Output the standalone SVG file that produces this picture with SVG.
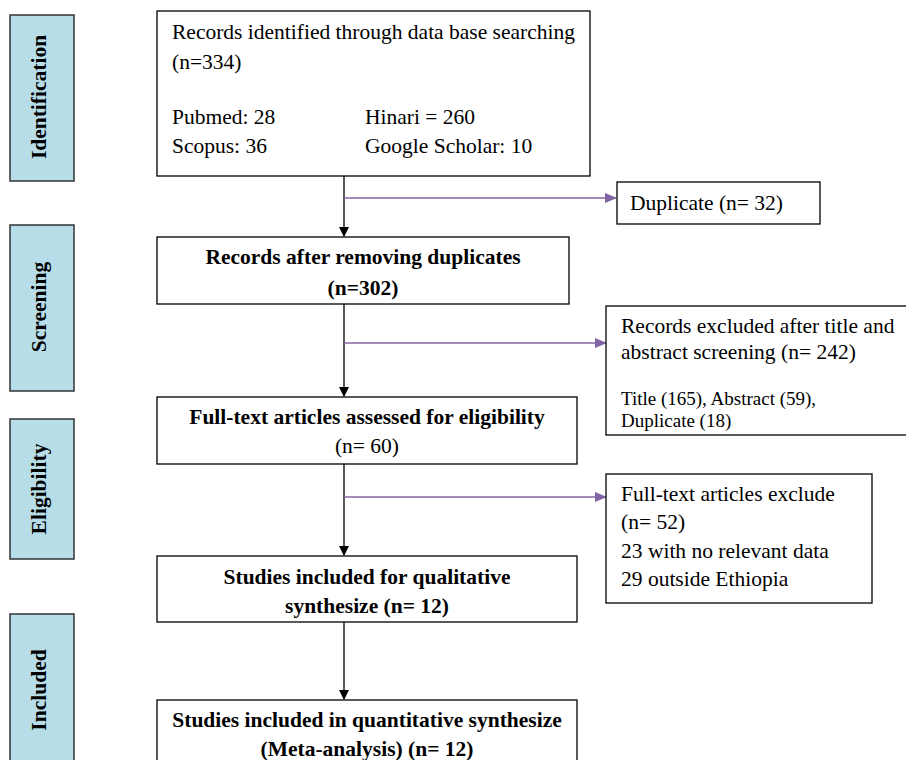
<svg xmlns="http://www.w3.org/2000/svg" width="906" height="760" viewBox="0 0 906 760">
<defs>
<style>
.side{fill:#b7dde8;stroke:#333;stroke-width:1.5}
.box{fill:#fff;stroke:#000;stroke-width:1.3}
.t{font-family:"Liberation Serif","Times New Roman",serif;font-size:21.5px;fill:#000}
.b{font-weight:bold}
.s{font-size:19px}
.st{font-family:"Liberation Serif","Times New Roman",serif;font-size:21.5px;font-weight:bold;fill:#000}
.k{stroke:#000;stroke-width:1.3;fill:none}
.p{stroke:#8064a2;stroke-width:1.3;fill:none}
</style>
<marker id="ak" markerWidth="10" markerHeight="10" refX="9" refY="5" orient="auto" markerUnits="userSpaceOnUse"><path d="M0,0 L10,5 L0,10 z" fill="#000"/></marker>
<marker id="ap" markerWidth="12" markerHeight="10" refX="11" refY="5" orient="auto" markerUnits="userSpaceOnUse"><path d="M0,0 L12,5 L0,10 z" fill="#8064a2"/></marker>
</defs>
<rect width="906" height="760" fill="#fff"/>
<g id="side-identification"><rect class="side" x="10" y="15" width="64" height="166"/><text class="st" transform="translate(46,97) rotate(-90)" text-anchor="middle">Identification</text></g>
<g id="side-screening"><rect class="side" x="10" y="225" width="64" height="166"/><text class="st" transform="translate(46,307) rotate(-90)" text-anchor="middle">Screening</text></g>
<g id="side-eligibility"><rect class="side" x="10" y="419" width="64" height="140"/><text class="st" transform="translate(46,489) rotate(-90)" text-anchor="middle">Eligibility</text></g>
<g id="side-included"><rect class="side" x="10" y="614" width="64" height="160"/><text class="st" transform="translate(46,690) rotate(-90)" text-anchor="middle">Included</text></g>
<g id="connectors">
<line class="k" x1="344" y1="176" x2="344" y2="236" marker-end="url(#ak)"/>
<line class="p" x1="344" y1="198" x2="616" y2="198" marker-end="url(#ap)"/>
<line class="k" x1="344" y1="304" x2="344" y2="396" marker-end="url(#ak)"/>
<line class="p" x1="344" y1="343" x2="606" y2="343" marker-end="url(#ap)"/>
<line class="k" x1="344" y1="464" x2="344" y2="555" marker-end="url(#ak)"/>
<line class="p" x1="344" y1="497" x2="606" y2="497" marker-end="url(#ap)"/>
<line class="k" x1="344" y1="622" x2="344" y2="699" marker-end="url(#ak)"/>
</g>
<g id="n-identified"><rect class="box" x="157" y="11" width="433" height="165"/>
<text class="t" x="172" y="39">Records identified through data base searching</text>
<text class="t" x="172" y="69">(n=334)</text>
<text class="t" x="172" y="124">Pubmed: 28</text><text class="t" x="365" y="124">Hinari = 260</text>
<text class="t" x="172" y="153">Scopus: 36</text><text class="t" x="365" y="153">Google Scholar: 10</text></g>
<g id="n-duplicate"><rect class="box" x="617" y="182" width="203" height="42"/><text class="t" x="630" y="210">Duplicate (n= 32)</text></g>
<g id="n-after-dup"><rect class="box" x="157" y="237" width="412" height="67"/>
<text class="t b" x="363" y="264" text-anchor="middle">Records after removing duplicates</text>
<text class="t b" x="363" y="295" text-anchor="middle">(n=302)</text></g>
<g id="n-excluded-screen"><rect class="box" x="606" y="306" width="310" height="129"/>
<text class="t" x="621" y="333">Records excluded after title and</text>
<text class="t" x="621" y="359">abstract screening (n= 242)</text>
<text class="t s" x="621" y="405">Title (165), Abstract (59),</text>
<text class="t s" x="621" y="427">Duplicate (18)</text></g>
<g id="n-fulltext"><rect class="box" x="157" y="397" width="420" height="67"/>
<text class="t b" x="367" y="424" text-anchor="middle">Full-text articles assessed for eligibility</text>
<text class="t" x="367" y="453" text-anchor="middle">(n= 60)</text></g>
<g id="n-fulltext-excl"><rect class="box" x="606" y="474" width="266" height="129"/>
<text class="t" x="621" y="501">Full-text articles exclude</text>
<text class="t" x="621" y="529">(n= 52)</text>
<text class="t" x="621" y="558">23 with no relevant data</text>
<text class="t" x="621" y="586">29 outside Ethiopia</text></g>
<g id="n-qualitative"><rect class="box" x="157" y="556" width="420" height="66"/>
<text class="t b" x="367" y="584" text-anchor="middle">Studies included for qualitative</text>
<text class="t b" x="367" y="613" text-anchor="middle">synthesize (n= 12)</text></g>
<g id="n-quantitative"><rect class="box" x="157" y="700" width="420" height="80"/>
<text class="t b" x="367" y="727" text-anchor="middle">Studies included in quantitative synthesize</text>
<text class="t b" x="367" y="756" text-anchor="middle">(Meta-analysis) (n= 12)</text></g>
</svg>
